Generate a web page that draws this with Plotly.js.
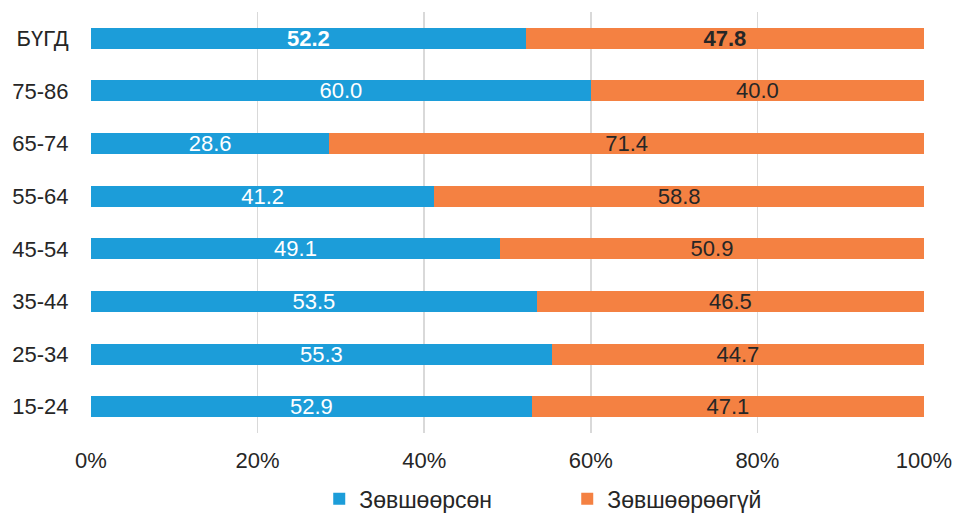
<!DOCTYPE html>
<html><head><meta charset="utf-8">
<script src="https://cdn.plot.ly/plotly-3.0.1.min.js"></script>
<style>body{margin:0;background:#fff}</style>
</head><body><div id="chart" style="width:957px;height:517px"></div>
<script>
const categories = ["15-24","25-34","35-44","45-54","55-64","65-74","75-86","БҮГД"];
const agreed = [52.9,55.3,53.5,49.1,41.2,28.6,60.0,52.2];
const disagreed = [47.1,44.7,46.5,50.9,58.8,71.4,40.0,47.8];
const seriesNames = ["Зөвшөөрсөн","Зөвшөөрөөгүй"];
const boldCategory = "БҮГД";

function labels(vals){
  return vals.map((v,i)=> categories[i]===boldCategory ? "<b>"+v.toFixed(1)+"</b>" : v.toFixed(1));
}
const font = "Liberation Sans, Arial, sans-serif";
const common = {type:'bar', orientation:'h', y:categories, textposition:'inside', insidetextanchor:'middle',
  constraintext:'none', hoverinfo:'none', width:0.4};
const data = [
  Object.assign({}, common, {name:seriesNames[0], x:agreed, text:labels(agreed), texttemplate:'%{text}',
    marker:{color:'#1c9dd9'}, insidetextfont:{family:font,size:22,color:'#ffffff'}}),
  Object.assign({}, common, {name:seriesNames[1], x:disagreed, text:labels(disagreed), texttemplate:'%{text}',
    marker:{color:'#f48142'}, insidetextfont:{family:font,size:22,color:'#262626'}})
];
const layout = {
  barmode:'stack',
  margin:{l:91,r:33,t:12,b:84,autoexpand:false},
  paper_bgcolor:'#fff', plot_bgcolor:'#fff',
  font:{family:font,size:22,color:'#262626'},
  showlegend:true,
  legend:{orientation:'h', x:0.274, xanchor:'left', y:-0.105, yanchor:'top',
    entrywidth:203, entrywidthmode:'pixels', font:{size:23,color:'#262626'}, itemwidth:30, traceorder:'normal'},
  xaxis:{range:[0,100], tickvals:[0,20,40,60,80,100], ticktext:["0%","20%","40%","60%","80%","100%"],
    showgrid:true, gridcolor:'#d9d9d9', gridwidth:1.5, zeroline:false, showline:false,
    ticks:'outside', ticklen:8, tickcolor:'rgba(0,0,0,0)', fixedrange:true},
  yaxis:{categoryorder:'array', categoryarray:categories, showgrid:false, zeroline:false, showline:false,
    ticks:'outside', ticklen:17, tickcolor:'rgba(0,0,0,0)', fixedrange:true}
};
Plotly.newPlot('chart', data, layout, {displayModeBar:false, staticPlot:true});
</script></body></html>
